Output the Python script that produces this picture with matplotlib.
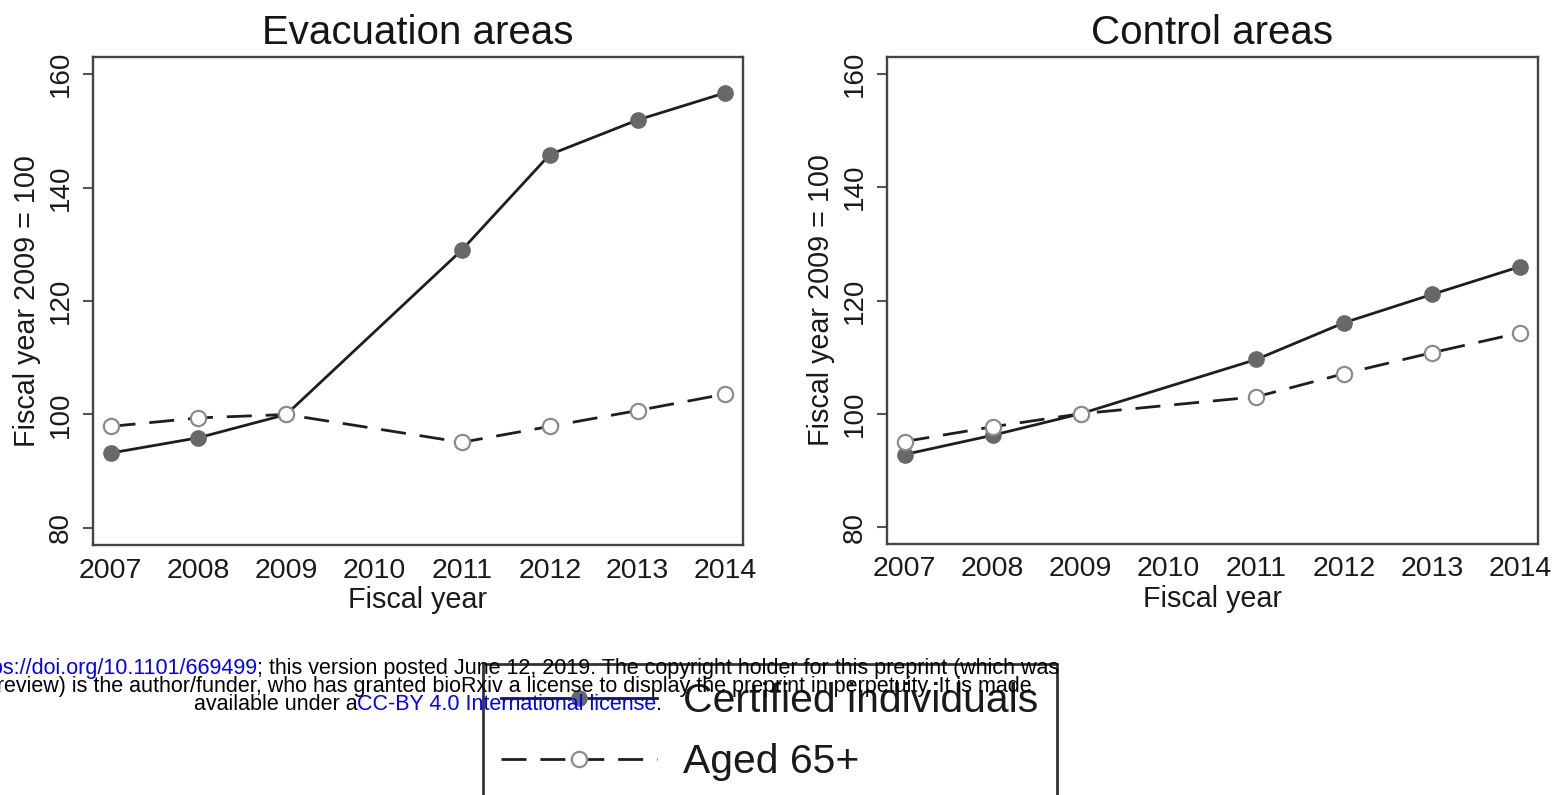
import matplotlib
matplotlib.use("Agg")
import matplotlib.pyplot as plt
from matplotlib.lines import Line2D

plt.rcParams['font.family'] = ['Liberation Sans', 'DejaVu Sans']

# Fiscal years and indices (fiscal year 2009 = 100); 2010 has no observation
years = [2007, 2008, 2009, 2011, 2012, 2013, 2014]
year_ticks = [2007, 2008, 2009, 2010, 2011, 2012, 2013, 2014]
y_ticks = [80, 100, 120, 140, 160]

evac_certified = [93.2, 95.9, 100.0, 129.0, 145.8, 151.9, 156.7]
evac_aged65 = [97.9, 99.4, 100.0, 95.1, 97.9, 100.7, 103.6]
ctrl_certified = [92.8, 96.2, 100.0, 109.6, 116.1, 121.1, 126.0]
ctrl_aged65 = [95.1, 97.7, 100.0, 103.0, 107.1, 110.8, 114.3]

panel_titles = ["Evacuation areas", "Control areas"]
series_labels = ["Certified individuals", "Aged 65+"]

W, H = 1562, 795
fig = plt.figure(figsize=(W / 100, H / 100), dpi=100)
fig.patch.set_facecolor('white')

line_col = '#1e1e1e'
fill_col = '#686868'
open_edge = '#8c8c8c'
ink = '#1a1a1a'

certified_style = dict(color=line_col, lw=2.0, marker='o', ms=11,
                       mfc=fill_col, mec=fill_col)
aged_style = dict(color=line_col, lw=2.0, dashes=(9, 5), marker='o', ms=11,
                  mfc='white', mec=open_edge, mew=1.6)


def draw_panel(rect, title, certified, aged):
    ax = fig.add_axes(rect)
    ax.plot(years, certified, zorder=3, **certified_style)
    ax.plot(years, aged, zorder=4, **aged_style)
    ax.set_xlim(2006.8, 2014.2)
    ax.set_ylim(77, 163)
    ax.set_xticks(year_ticks)
    ax.set_yticks(y_ticks)
    ax.tick_params(axis='x', length=0, pad=9, labelsize=20.5, labelcolor=ink)
    ax.tick_params(axis='y', length=7, width=1.5, color='#555555', pad=7,
                   labelsize=20, labelrotation=90, labelcolor=ink)
    for lab in ax.get_yticklabels():
        lab.set_va('center')
    for sp in ax.spines.values():
        sp.set_color('#444444')
        sp.set_linewidth(1.7)
    ax.set_title(title, fontsize=29, pad=9, color='#151515')
    ax.set_xlabel("Fiscal year", fontsize=20.7, labelpad=2, color=ink)
    ax.set_ylabel("Fiscal year 2009 = 100", fontsize=20.7, labelpad=5, color=ink)
    return ax


ax1 = draw_panel([93 / W, 1 - 545 / H, 650 / W, 488 / H], panel_titles[0],
                 evac_certified, evac_aged65)
ax2 = draw_panel([887 / W, 1 - 544 / H, 651 / W, 487 / H], panel_titles[1],
                 ctrl_certified, ctrl_aged65)

handles = [Line2D([], [], **certified_style), Line2D([], [], **aged_style)]
leg = fig.legend(handles, series_labels, loc='upper left',
                 bbox_to_anchor=(483 / W, 1 - 664 / H), fontsize=29.4,
                 frameon=True, fancybox=False, framealpha=1, edgecolor='#333333',
                 borderpad=0.45, handlelength=3.8, handletextpad=0.66,
                 labelspacing=0.55, borderaxespad=0)
leg.get_frame().set_linewidth(2)
for t in leg.get_texts():
    t.set_color(ink)

# Preprint notice printed across the lower part of the page
fs = 15.5
blue = '#0000ff'
renderer = fig.canvas.get_renderer()


def text_run(pieces, x_px, base_px, ha):
    """Lay out differently coloured pieces of text side by side on one line."""
    arts = []
    widths = []
    for s, c in pieces:
        t = fig.text(0, 0, s, color=c, fontsize=fs, ha='left', va='baseline',
                     zorder=20)
        widths.append(t.get_window_extent(renderer).width)
        arts.append(t)
    total = sum(widths)
    if ha == 'right':
        x = x_px - total
    elif ha == 'center':
        x = x_px - total / 2
    else:
        x = x_px
    for t, w in zip(arts, widths):
        t.set_position((x / W, 1 - base_px / H))
        x += w


text_run([("bioRxiv preprint doi:", 'black'),
          (" https://doi.org/10.1101/669499", blue),
          ("; this version posted June 12, 2019. The copyright holder for this preprint (which was", 'black')],
         1059, 674, 'right')
text_run([("not certified by peer review) is the author/funder, who has granted bioRxiv a license to display the preprint in perpetuity. It is made", 'black')],
         1032, 692, 'right')
text_run([("available under a", 'black'),
          ("CC-BY 4.0 International license", blue),
          (".", 'black')],
         428, 710, 'center')

fig.savefig("out.png", dpi=100, facecolor='white')
